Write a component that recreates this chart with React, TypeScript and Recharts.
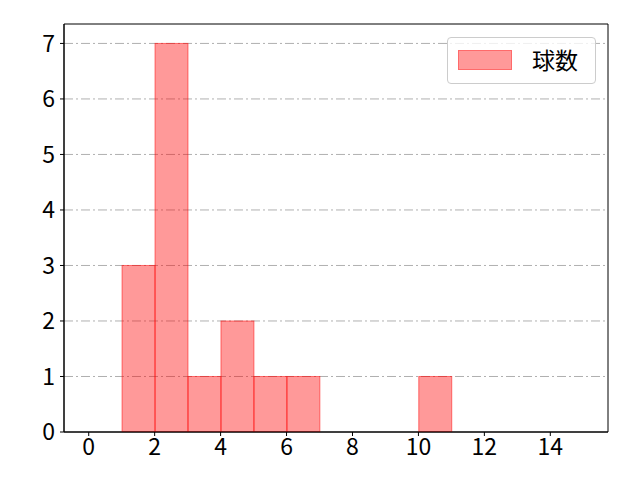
import React from 'react';
import {
  ComposedChart,
  Bar,
  XAxis,
  YAxis,
  CartesianGrid,
  ReferenceArea
} from 'recharts';

// histogram bins (left edge) and counts
const binStarts = [1, 2, 3, 4, 5, 6, 10];
const counts = [3, 7, 1, 2, 1, 1, 1];
const xTicks = [0, 2, 4, 6, 8, 10, 12, 14];
const yTicks = [0, 1, 2, 3, 4, 5, 6, 7];
const seriesName = '球数';

const data = binStarts.map((start, i) => ({ x: start + 0.5, count: counts[i] }));

const FONT = '"Noto Sans CJK JP", "Noto Sans", sans-serif';
const W = 640;
const H = 480;
const margin = { top: 24, right: 32, bottom: 0, left: 0 };
const yAxisWidth = 64;
const xAxisHeight = 48;
const xDomain: [number, number] = [-0.75, 15.75];
const yDomain: [number, number] = [0, 7.35];
const plotWidth = W - margin.left - margin.right - yAxisWidth;
const binWidth = plotWidth / (xDomain[1] - xDomain[0]);

// keep the bar centred where recharts put it, but make it one full bin wide
const HistBar = (props: any) => {
  const { x, y, width, height } = props;
  if (!height) return null;
  const cx = x + width / 2;
  return (
    <rect
      x={cx - binWidth / 2}
      y={y}
      width={binWidth}
      height={height}
      fill="#ff0000"
      fillOpacity={0.4}
      stroke="#ff0000"
      strokeOpacity={0.5}
      strokeWidth={1}
    />
  );
};

const LegendBox = () => (
  <div
    style={{
      position: 'absolute',
      left: 447,
      top: 37,
      width: 147,
      height: 45,
      border: '1px solid #cccccc',
      borderRadius: 4,
      background: 'rgba(255,255,255,0.8)',
      fontFamily: FONT
    }}
  >
    <div
      style={{
        position: 'absolute',
        left: 10,
        top: 12,
        width: 52,
        height: 18,
        background: 'rgba(255,0,0,0.4)',
        border: '1px solid rgba(255,0,0,0.3)'
      }}
    />
    <span
      style={{
        position: 'absolute',
        left: 84,
        top: 6,
        fontSize: 23,
        lineHeight: '30px',
        color: '#000'
      }}
    >
      {seriesName}
    </span>
  </div>
);

export default function App() {
  const tickStyle = { fill: '#000', fontSize: 23, fontFamily: FONT };
  return (
    <div style={{ position: 'absolute', left: 0, top: 0, width: W, height: H, background: '#fff' }}>
      <ComposedChart
        width={W}
        height={H}
        data={data}
        margin={margin}
        barCategoryGap={0}
        barGap={0}
      >
        <CartesianGrid
          xAxisId="main"
          yAxisId="main"
          horizontal
          vertical={false}
          horizontalValues={yTicks.slice(1)}
          stroke="#b0b0b0"
          strokeDasharray="9 3 2 3"
          strokeWidth={1}
        />
        <XAxis
          xAxisId="main"
          dataKey="x"
          type="number"
          domain={xDomain}
          ticks={xTicks}
          allowDataOverflow
          height={xAxisHeight}
          stroke="#000"
          tickSize={4}
          tickMargin={3}
          tick={tickStyle}
          interval={0}
        />
        <YAxis
          yAxisId="main"
          type="number"
          domain={yDomain}
          ticks={yTicks}
          allowDataOverflow
          width={yAxisWidth}
          stroke="#000"
          tickSize={4}
          tickMargin={5}
          tick={tickStyle}
          interval={0}
        />
        <Bar
          xAxisId="main"
          yAxisId="main"
          dataKey="count"
          name={seriesName}
          barSize={binWidth}
          fill="#ff0000"
          shape={<HistBar />}
          isAnimationActive={false}
        />
        {/* axes frame */}
        <ReferenceArea
          xAxisId="main"
          yAxisId="main"
          x1={xDomain[0]}
          x2={xDomain[1]}
          y1={yDomain[0]}
          y2={yDomain[1]}
          fill="none"
          stroke="#000"
          strokeWidth={1}
          ifOverflow="visible"
        />
      </ComposedChart>
      <LegendBox />
    </div>
  );
}
